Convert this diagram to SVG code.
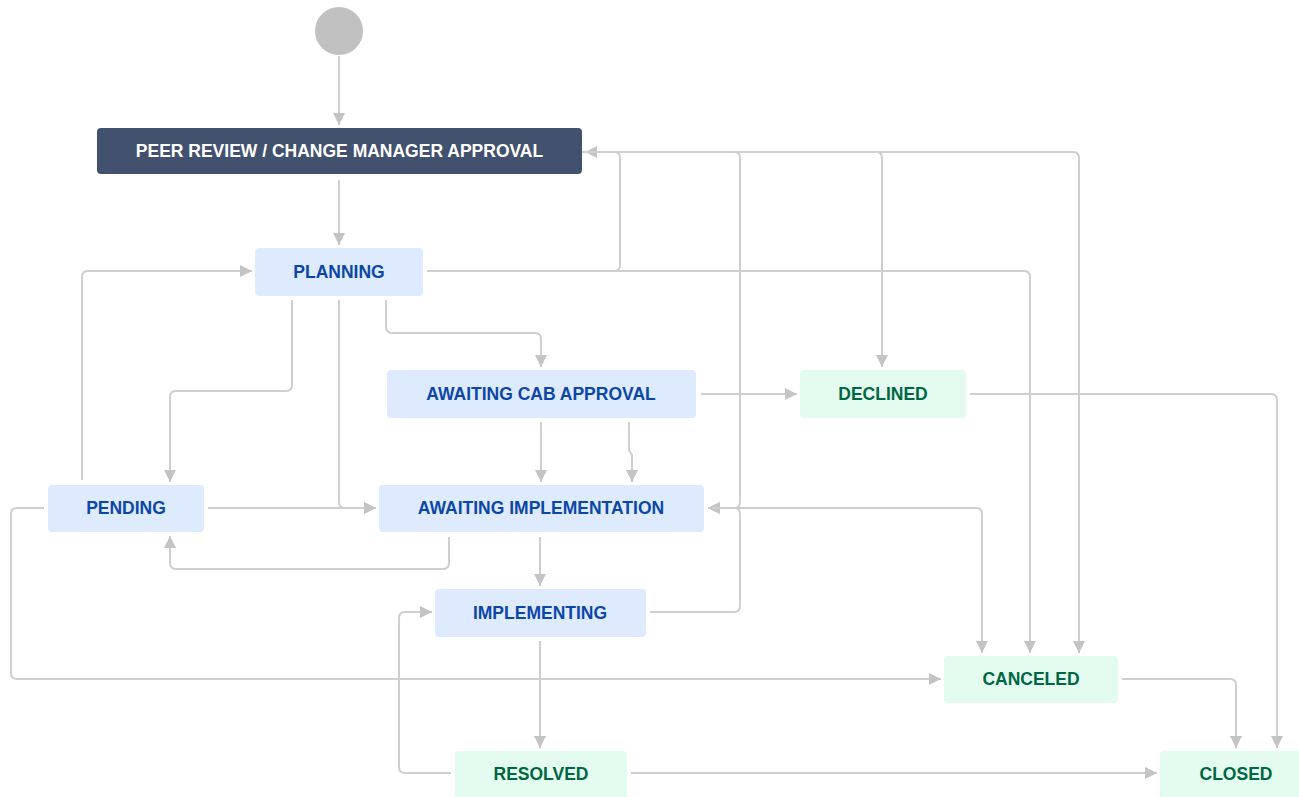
<svg xmlns="http://www.w3.org/2000/svg" width="1299" height="797" viewBox="0 0 1299 797">
<style>
.c{fill:none;stroke:#cfcfcf;stroke-width:2;marker-end:url(#ah)}
.b rect{fill:#deebff}
.b text{fill:#0c47a6}
.g rect{fill:#e3fcef}
.g text{fill:#006644}
text{font-family:"Liberation Sans",Arial,sans-serif;font-size:17.5px;font-weight:bold;text-anchor:middle}
</style>
<defs>
<marker id="ah" viewBox="0 0 12 12" refX="12" refY="6" markerWidth="12" markerHeight="12" markerUnits="userSpaceOnUse" orient="auto">
<path d="M0,0 L12,6 L0,12 z" fill="#c4c4c4"/>
</marker>
</defs>
<rect width="1299" height="797" fill="#ffffff"/>
<g id="connectors">
<path class="c" d="M339 56 V125"/>
<path class="c" d="M339 180 V245"/>
<path class="c" d="M427 271 H614 Q620 271 620 265 V158 Q620 152 614 152 H585"/>
<path class="c" d="M582 152 H734 Q740 152 740 158 V502 Q740 508 734 508 H708"/>
<path class="c" d="M582 152 H876 Q882 152 882 158 V367"/>
<path class="c" d="M582 152 H1073 Q1079 152 1079 158 V653"/>
<path class="c" d="M427 271 H1024 Q1030 271 1030 277 V653"/>
<path class="c" d="M650 612 H734 Q740 612 740 606 V514 Q740 508 734 508 H708"/>
<path class="c" d="M712 508 H976 Q982 508 982 514 V653"/>
<path class="c" d="M970 394 H1271 Q1277 394 1277 400 V748"/>
<path class="c" d="M1122 679 H1230 Q1236 679 1236 685 V748"/>
<path class="c" d="M631 773 H1157"/>
<path class="c" d="M451 773 H405 Q399 773 399 767 V618 Q399 612 405 612 H432"/>
<path class="c" d="M540 641 V748"/>
<path class="c" d="M540 537 V586"/>
<path class="c" d="M449 537 V563 Q449 569 443 569 H176 Q170 569 170 563 V536"/>
<path class="c" d="M208 508 H376"/>
<path class="c" d="M339 300 V502 Q339 508 345 508 H376"/>
<path class="c" d="M292 300 V385 Q292 391 286 391 H176 Q170 391 170 397 V482"/>
<path class="c" d="M82 480 V277 Q82 271 88 271 H252"/>
<path class="c" d="M44 508 H17 Q11 508 11 514 V673 Q11 679 17 679 H941"/>
<path class="c" d="M386 300 V327 Q386 333 392 333 H535 Q541 333 541 339 V367"/>
<path class="c" d="M701 394 H797"/>
<path class="c" d="M541 422 V482"/>
<path class="c" d="M629 422 V450 L632 455 V482"/>
</g>
<g id="start"><circle cx="339" cy="31" r="24" fill="#c1c1c1"/></g>
<g id="peer-review"><rect x="97" y="128" width="485" height="46" rx="4" fill="#42526e"/><text x="339.5" y="157" fill="#ffffff">PEER REVIEW / CHANGE MANAGER APPROVAL</text></g>
<g id="planning" class="b"><rect x="255" y="248" width="168" height="48" rx="4"/><text x="339" y="278">PLANNING</text></g>
<g id="awaiting-cab" class="b"><rect x="387" y="370" width="309" height="48" rx="4"/><text x="541" y="400">AWAITING CAB APPROVAL</text></g>
<g id="declined" class="g"><rect x="800" y="370" width="166" height="48" rx="4"/><text x="883" y="400">DECLINED</text></g>
<g id="pending" class="b"><rect x="48" y="485" width="156" height="47" rx="4"/><text x="126" y="514">PENDING</text></g>
<g id="awaiting-impl" class="b"><rect x="379" y="485" width="325" height="47" rx="4"/><text x="541" y="514">AWAITING IMPLEMENTATION</text></g>
<g id="implementing" class="b"><rect x="435" y="589" width="211" height="48" rx="4"/><text x="540" y="619">IMPLEMENTING</text></g>
<g id="canceled" class="g"><rect x="944" y="656" width="174" height="47" rx="4"/><text x="1031" y="685">CANCELED</text></g>
<g id="resolved" class="g"><rect x="455" y="751" width="172" height="47" rx="4"/><text x="541" y="780">RESOLVED</text></g>
<g id="closed" class="g"><rect x="1160" y="751" width="152" height="47" rx="4"/><text x="1236" y="780">CLOSED</text></g>
</svg>
